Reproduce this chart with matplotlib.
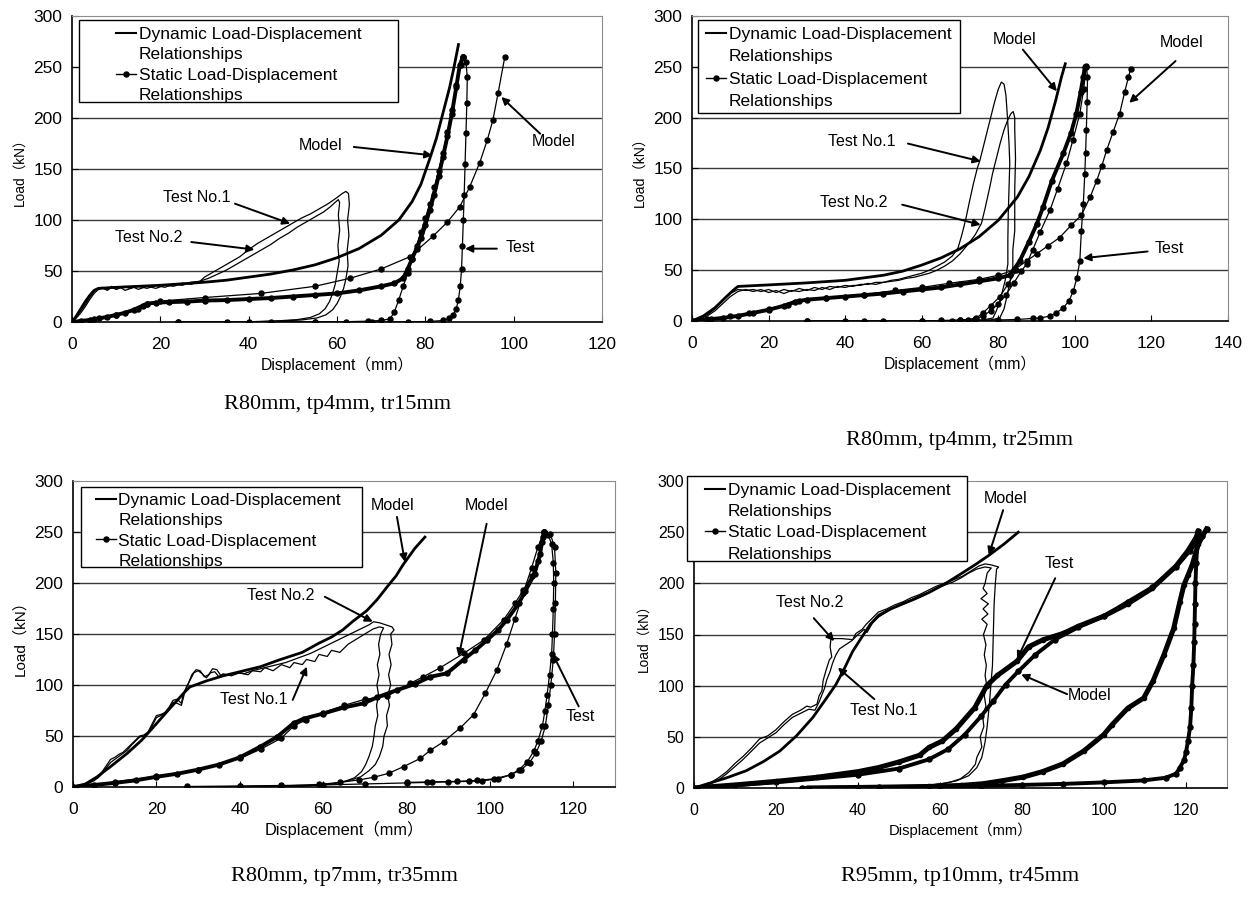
import matplotlib
matplotlib.use("Agg")
import matplotlib.pyplot as plt
from matplotlib.lines import Line2D
from matplotlib.patches import Rectangle

plt.rcParams['font.family'] = ['Liberation Sans', 'Noto Sans CJK JP', 'DejaVu Sans']

# ---------------- DATA (displacement mm, load kN) ----------------
# Panel 1: R80mm, tp4mm, tr15mm
p1_dyn_test1 = [(0,0),(1,5),(2,11),(3,17),(4,24),(5,30),(5.5,32),(7,33),(8,31),(9,34),(10,32),(12,35),(13,33),(15,35),(17,33),(19,36),(21,34),(23,37),(25,36),(27,39),(29,40),(30,44),(32,49),(34,54),(36,59),(38,64),(40,71),(42,77),(44,82),(46,87),(48,92),(50,97),(52,102),(54,106),(56,111),(58,116),(60,122),(61.2,126),(62,128),(62.6,126),(62.8,115),(62.4,100),(62.7,85),(62.3,70),(62.5,55),(62,42),(61.5,33),(60.8,25),(60,18),(59,12),(57.5,7),(55.5,4),(52,2),(47,1),(40,0)]
p1_dyn_test2 = [(0,0),(1,4),(2,9),(3,15),(4,22),(5,28),(6,32),(7,34),(8,32),(9,35),(10,32),(11,34),(12,31),(14,34),(15,32),(17,35),(19,33),(21,36),(23,35),(25,38),(27,37),(29,40),(31,43),(33,47),(35,51),(37,56),(39,61),(41,66),(43,71),(45,76),(47,82),(49,87),(51,93),(53,98),(55,103),(57,108),(58.5,113),(59.5,117),(60.3,120),(60.6,117),(60.3,105),(60.6,90),(60.2,75),(60.5,60),(60,47),(59.6,37),(59,28),(58.3,20),(57.3,13),(56,8),(54,4.5),(51,2.3),(46,1),(38,0)]
p1_dyn_model = [(0,0),(1,6),(2,13),(3,20),(4,26),(5,31),(6,33),(10,34),(15,35),(20,36),(25,37.5),(30,39),(35,41),(40,44),(45,47),(50,51),(55,56),(60,63),(65,72),(70,85),(74,100),(77,118),(79,135),(81,160),(82.5,180),(84,205),(85.5,230),(86.5,250),(87.5,272)]
p1_stat_test_load = [(0,0),(2,1),(4,2),(6,3.5),(8,5),(10,7),(12,9),(14,12),(16,16),(17,18),(19,19),(22,19.5),(26,20),(30,21),(35,21.5),(40,22.5),(45,23.5),(50,25),(55,26.5),(60,28),(65,31),(70,35),(73,38),(75,43),(76,52),(77,62),(78,72),(79,82),(80,95),(81,110),(82,125),(83,143),(84,162),(85,182),(86,204),(87,230),(87.8,252),(88.5,260)]
p1_stat_test_unload = [(88.5,260),(89.2,255),(89.5,240),(89.4,215),(89.2,185),(89,155),(88.8,125),(88.6,100),(88.4,75),(88.2,52),(87.9,35),(87.5,22),(87,13),(86.3,7),(85.3,3.5),(84,1.5),(81,0.5),(76,0.2),(68,0),(55,0),(40,0),(24,0)]
p1_stat_test_reload = [(24,0),(35,0),(45,0),(55,0),(62,0.3),(67,0.8),(70,1.5),(72,3),(73,10),(74,22),(75,35),(76,48),(77,62),(78,75),(79,88),(80,102),(81,116),(82,132),(83,148),(84,166),(85,186),(86,208),(87,232),(88,252),(88.6,260)]
p1_stat_model = [(0,0),(5,3),(10,7),(15,13),(17,17.5),(20,20.5),(30,24),(42.7,28),(55,35),(62.9,42.8),(70,52),(76.5,64),(81.7,84),(85,98),(87.8,113),(90,132),(92.3,156),(94,178),(95.3,198),(96.5,225),(98,260)]

# Panel 2: R80mm, tp4mm, tr25mm
p2_dyn_test1 = [(0,0),(2,3),(4,6),(6,12),(8,20),(10,27),(12,31),(14,30),(16,31),(18,29),(20,31),(22,28),(24,31),(26,29),(28,32),(30,30),(32,33),(34,31),(36,34),(38,33),(40,35),(42,34),(44,36),(46,36),(48,38),(50,38),(52,40),(54,41),(56,43),(58,45),(60,47),(62,50),(64,54),(66,58),(68,64),(69.5,72),(70.5,85),(71.5,100),(72.5,118),(73.5,135),(74.5,150),(75.2,158),(76,170),(77,185),(78,200),(79,215),(80,228),(80.8,235),(81.5,233),(82,222),(82.4,200),(82.8,175),(83,155),(82.8,130),(82.6,105),(82.5,80),(82.5,56),(81.8,40),(81,28),(80.4,20),(79.5,10),(78.6,3),(76,1),(70,0.3),(60,0)]
p2_dyn_test2 = [(0,0),(2,2),(4,5),(6,10),(8,17),(10,24),(12,29),(14,31),(16,29),(18,31),(20,28),(22,30),(24,27),(26,30),(28,29),(30,31),(32,30),(34,33),(36,31),(38,34),(40,33),(42,35),(44,35),(46,37),(48,36),(50,38),(52,39),(54,40),(56,42),(58,43),(60,45),(62,47),(64,50),(66,54),(68,59),(70,66),(72,75),(74,85),(75.6,96),(76.5,110),(77.8,132),(78.5,145),(79.5,160),(80.5,175),(81.5,188),(82.5,198),(83.3,204),(83.9,206),(84.3,200),(84.3,188),(84.5,160),(84.3,130),(84.3,100),(84.3,89),(83.8,70),(83.8,53),(83,38),(82.2,23),(81.5,12),(80.4,3),(78,1),(70,0)]
p2_dyn_model = [(0,0),(3,5),(6,13),(9,24),(11,31),(12,34),(20,35.5),(30,37.5),(40,40),(50,45),(55,49),(60,55),(65,62),(70,71),(75,83),(80,99),(85,122),(88,142),(91,168),(93,190),(95,217),(96.5,240),(97.5,253)]
p2_stat_test_load = [(0,0),(4,1.5),(8,3),(12,5),(16,8),(20,11),(24,15),(27,19),(30,21),(35,22.5),(40,24),(45,25.5),(50,27),(55,29),(60,31),(65,33),(70,36),(75,39),(80,42),(83,45),(85.6,59),(88,78),(90,95),(91.7,112),(94,138),(97,165),(99,185),(100.4,204),(101.5,225),(102.2,240),(102.6,250)]
p2_stat_test_branch = [(68,0),(72,1),(74.3,3),(76,8),(78,15),(80.4,24),(82.5,36),(84.7,50)]
p2_stat_test_reload = [(30,0),(40,0),(50,0),(60,0),(65,0.5),(70,1),(74,2),(76,5),(78,10),(80,17),(82,26),(84,37),(86,49),(87.4,56),(89,70),(91,88),(93.5,109),(95.5,130),(97.8,155),(99.5,178),(101.3,204),(102.3,228),(103,250)]
p2_stat_test_unload = [(103,251),(103.3,240),(103.2,215),(103,188),(102.8,165),(102.6,145),(102.2,115),(101.7,89),(101.3,59),(100.5,42),(99.6,29.5),(98.5,20),(97,13),(95,7.5),(93.5,4.8),(91,3),(89,2.5),(85,1.5),(80,1),(70,0.5),(60,0),(45,0),(30,0)]
p2_stat_model = [(0,0),(5,2),(10,4.5),(15,8),(20,12),(25,16),(28,20),(35,22.5),(45,26),(53,30),(60,33),(67,37),(75,41),(80,45),(84,50),(87.4,59),(90,66),(93,74),(96,82),(99,94),(101.7,104),(104,122),(105.7,138),(107,152),(108.3,168),(110,186),(111.7,204),(113,225),(114,240),(114.6,248)]

# Panel 3: R80mm, tp7mm, tr35mm
p3_dyn_test1 = [(0,0),(2,1.5),(4,4),(5,6),(6,9),(7,13),(8,19),(9,24),(10,27),(11,30),(12,33),(13,36),(14,41),(15,45),(16,49),(17,50),(18,53),(19,60),(20,68),(21,70),(22,72),(23,77),(24,83),(25,82),(26,80),(27,96),(28,104),(29,112),(30,114),(31,111),(32,107),(33,112),(34,113),(35,108),(36,111),(38,109),(40,112),(42,110),(43,114),(45,113),(46,117),(48,114),(50,120),(52,117),(53,122),(55,120),(56,125),(58,123),(59,130),(61,128),(62,134),(64,132),(66,140),(68,145),(70,150),(72,155),(73.5,157),(74.5,156),(73.8,150),(73.3,140),(73.6,130),(73,120),(73.4,110),(72.9,100),(73.3,90),(72.8,80),(73.1,70),(72.5,60),(72.2,50),(71.8,40),(71,30),(70.2,22),(69.2,15),(67.5,9),(65.5,6),(62,3),(56,1),(45,0.3),(28,0)]
p3_dyn_test2 = [(0,0),(2,2),(4,5),(5,8),(6,11),(7,15),(8,21),(9,27),(10,29),(11,32),(12,34),(13,38),(14,42),(15,46),(16,50),(17,51),(18,54),(19,62),(20,70),(21,71),(22,73),(23,78),(24,85),(25,86),(26,82),(26.5,92),(27.5,100),(28.5,110),(29.5,115),(30.5,114),(31.5,108),(32.5,110),(33.5,116),(34.5,115),(35.5,109),(37,110),(39,112),(41,111),(43,114),(45,116),(47,118),(49,120),(51,122),(53,125),(55,128),(57,131),(59,135),(61,139),(63,143),(65,147),(67,151),(69,155),(71,159),(72.1,162),(73.5,161),(75,159),(76.5,157),(77,154),(76.2,150),(76.5,140),(75.8,130),(76.3,120),(75.7,110),(76.2,100),(75.5,90),(75.9,80),(75.2,70),(75.4,60),(74.6,50),(74.3,40),(73.5,30),(72.5,22),(71,16),(69,10),(66,6),(62,3),(55,1),(45,0.5),(30,0)]
p3_dyn_model = [(0,0),(3,3),(5.8,10),(9,20),(13,33),(16.5,46),(20,62),(23,76),(25,85),(27,94),(28,98),(32,104),(36,109),(40,113),(45,118),(49.4,124.5),(55,132),(59,141),(62,147),(64.7,154),(67,162),(70.5,173),(73,184),(75.3,196),(77.5,207),(79.1,217.5),(82,234),(84.4,245)]
p3_stat_test_load = [(0,0),(5,2),(10,4),(15,6.5),(20,10),(25,13),(30,17),(35,22),(40,29),(44.9,39.5),(48.9,49),(52.9,62.5),(55.3,67),(60,72),(65,78),(69.7,82),(73,88),(77.7,95),(82,101),(85.7,108),(89.7,111.5),(93.7,125),(96.5,134),(99.3,144),(102,154),(104.1,164),(106.9,180),(108.5,192),(110.7,209),(112,228),(112.7,245),(113,250)]
p3_stat_model = [(0,0),(10,5),(20,10.5),(30,17),(40,28),(45,37),(50,48),(53,60),(56,66),(60,73),(65,80),(70,86),(75.3,89),(80.9,101.7),(84,108),(88.1,117),(93.7,131),(98.5,144),(103.3,164),(106,180),(108,193),(110,207),(111.5,222),(112.5,240),(113,250)]
p3_stat_test_unload1 = [(113,250),(114,247),(114.8,238),(115.2,220),(115.3,200),(115.2,175),(115,150),(114.8,130),(114.3,110),(113.7,90),(113.2,75),(112.6,60),(111.5,45),(110.5,35),(109,25),(107,17),(105,12),(102,8),(98,6),(95,5.5),(90,5),(85,4.5),(80,4),(70,3),(60,2),(50,1.5),(40,1),(27.3,0.5)]
p3_stat_test_unload2 = [(114.5,248),(115.5,235),(115.8,210),(115.7,180),(115.5,150),(115.2,125),(114.6,100),(114,80),(113.3,60),(112.3,45),(111,33),(109.5,24),(107.5,17),(105,12),(101,8),(97,6.5),(92,5.5),(86,5),(80,4.5)]
p3_stat_model_unload = [(113,250),(111.5,235),(110,215),(108,190),(106,165),(104,140),(101.7,115),(98.9,92),(96.1,71),(92.9,58),(88.9,44.4),(85.7,36),(83.3,28),(79.3,20),(75.7,13.4),(72.1,9.5),(68.6,7),(64,4.5),(59,2.5),(50,1),(40,0.5),(27.3,0)]

# Panel 4: R95mm, tp10mm, tr45mm
p4_dyn_test1 = [(0,0),(2,1.5),(4,4),(6,8),(8,14),(10,21),(12,28),(14,36),(16,44),(18,49),(20,54),(22,62),(24,69),(26,73),(28,77),(29.5,76),(30.5,84),(31.2,91),(31.8,97),(32.4,106),(33.2,114),(33.8,122),(34.6,130),(35.5,136),(37,140),(38.5,144),(40,150),(41.5,155),(42.2,152),(43.5,161),(45,167),(47,172),(49,177),(51,181),(53,184),(55,188),(57,191),(59,195),(61,198),(63,201),(65,205),(67,210),(69,214),(71,216),(72.5,215),(71.5,210),(71,200),(70.5,195),(71.5,190),(70,185),(71.8,180),(70.5,175),(71.7,170),(70.2,165),(71.5,160),(70.6,150),(71.2,140),(70.8,130),(71.3,120),(71,110),(71.4,100),(70.8,90),(71.2,80),(70.4,70),(70.7,60),(69.8,50),(70.2,40),(69,30),(68.6,23),(67,15),(65,9),(62,5),(58,3),(52,1.5),(45,0.5),(35,0)]
p4_dyn_test2 = [(0,0),(2,2),(4,5),(6,10),(8,16),(10,24),(12,31),(14,39),(16,48),(18,51),(20,57),(22,65),(24,72),(26,76),(27.5,80),(28.5,79),(30,82),(30.5,90),(31.2,95),(31.5,105),(32.2,115),(33,125),(33.6,128),(33.2,138),(33.4,146),(36,146),(38.7,145),(39.5,151),(41,155),(42,160),(43.5,166),(45,172),(47,175),(49,179),(51,182),(53,186),(55,189),(57,193),(59,197),(61,200),(63,203),(65.5,207),(67.5,212),(69.5,217),(71,219),(72.5,218),(74.3,216),(73.8,214),(73.5,200),(73.2,180),(73,150),(72.8,120),(72.4,100),(72,80),(71.5,60),(71,45),(70.2,30),(69,20),(67,12),(64,7),(60,4),(55,2),(48,1),(40,0)]
p4_dyn_model = [(0,0),(4,5),(8,10),(12.8,17),(17,26),(20.9,36),(25,51),(29,69),(32,86),(34.6,101),(36.7,117),(38.7,133.5),(40.7,146),(43,160),(45.1,169),(48,175),(51,180),(54,185),(57.3,191),(61,199),(65.4,210),(68.5,218),(71.8,227),(75.5,238),(79.1,250)]
p4_stat_test_load = [(0,0),(10,3),(20,6.5),(30,10.5),(40,16),(45,20),(50,25.5),(55,32),(57.3,39.6),(60.6,46),(64,58),(68.5,78.6),(71.4,100),(74,110),(78.8,124),(81.6,138),(85.2,145),(90,151),(93.7,158),(100,168),(105.8,180),(111.7,195),(117.6,217),(120.5,232),(122.5,245),(123,250.8)]
p4_stat_model_load = [(0,0),(20,5.5),(40,13),(50,19),(57.3,28),(62,38),(66,52),(70,70),(73,85),(76,101),(79.1,114),(83.2,130),(88,145),(93.7,157),(100,168),(105.8,182),(111.7,196),(117.6,216),(121,232),(124,246),(125,253)]
p4_stat_unload = [(125,253),(124,246),(123,238),(121.5,218),(120.5,208),(119.5,198.5),(118.5,182),(117,156),(114.6,130),(112,105),(109.7,88),(105.8,78),(102,62),(99.9,52),(95,36),(90,23.6),(85,16),(80.3,10.7),(75,7),(70.5,4.2),(65,2.5),(57.3,1.5),(40,0.5),(28,0)]
p4_stat_test_unload = [(123,251),(122.8,240),(122.5,220),(122.3,200),(122.2,180),(122.1,160),(122,143),(121.8,120),(121.5,100),(121.3,78.6),(121,60),(120.5,46),(120,35),(119.5,27),(118.5,20),(117.6,14),(115,10),(109.7,7.4),(100,5.5),(90,4),(80,3),(70,2),(60,1.6),(45,0.8),(26.3,0)]

captions = ["R80mm, tp4mm, tr15mm", "R80mm, tp4mm, tr25mm",
            "R80mm, tp7mm, tr35mm", "R95mm, tp10mm, tr45mm"]
x_maxes = [120, 140, 130, 130]
x_ticks = [list(range(0, 121, 20)), list(range(0, 141, 20)),
           list(range(0, 121, 20)), list(range(0, 121, 20))]
y_ticks = [0, 50, 100, 150, 200, 250, 300]
x_label = "Displacement（mm）"
y_label = "Load（kN）"
legend_labels = ["Dynamic Load-Displacement", "Relationships",
                 "Static Load-Displacement", "Relationships"]

# ---------------- STYLES ----------------
DYN_TEST = dict(color='black', lw=0.9, zorder=3)
DYN_MODEL = dict(color='black', lw=2.0, zorder=3)
STAT_THIN = dict(color='black', lw=0.9, marker='o', ms=3.6, zorder=3)
STAT_THICK = dict(color='black', lw=2.8, marker='o', ms=3.6, zorder=3)
STAT_BOLD = dict(color='black', lw=3.6, marker='o', ms=3.0, zorder=3)


def xy(pts):
    return [p[0] for p in pts], [p[1] for p in pts]


def draw(ax, pts, style):
    x, y = xy(pts)
    ax.plot(x, y, **style)


def note(ax, text, txy, tail, tip, fs=11.5):
    ax.text(txy[0], txy[1], text, ha='center', va='center', fontsize=fs, zorder=6)
    ax.annotate('', xy=tip, xytext=tail, zorder=6,
                arrowprops=dict(arrowstyle='-|>', color='black', lw=1.4,
                                mutation_scale=11, shrinkA=0, shrinkB=0))


fig = plt.figure(figsize=(12.52, 8.97), dpi=100)

W, H = 1252.0, 897.0
rects_px = [(72, 16, 602, 322), (692, 16, 1228, 321),
            (73, 481, 615, 787), (694, 481, 1227, 788)]
axes = []
for (l, t, r, b) in rects_px:
    axes.append(fig.add_axes([l / W, 1 - b / H, (r - l) / W, (b - t) / H]))

legend_boxes = [(0.013, 0.719, 0.615, 0.987), (0.011, 0.682, 0.500, 0.987),
                (0.015, 0.719, 0.533, 0.980), (-0.013, 0.739, 0.512, 1.016)]
legend_anchor = [(0.083, 0.965), (0.026, 0.965), (0.042, 0.962), (0.021, 0.995)]
legend_spacing = [0.30, 0.42, 0.30, 0.36]
xlabel_size = [11.3, 11.3, 11.8, 10.6]
ylabel_size = [9.8, 10.2, 11.0, 9.8]
tick_size = [12.5, 12.5, 12.5, 11.5]

for i, ax in enumerate(axes):
    ax.set_xlim(0, x_maxes[i])
    ax.set_ylim(0, 300)
    ax.set_xticks(x_ticks[i])
    ax.set_yticks(y_ticks)
    for yv in y_ticks[1:-1]:
        ax.axhline(yv, color='#3a3a3a', lw=1.0, zorder=1)
    for s in ['top', 'right']:
        ax.spines[s].set_color('#8c8c8c')
    for s in ['left', 'bottom']:
        ax.spines[s].set_color('black')
        ax.spines[s].set_linewidth(1.2)
    ax.tick_params(axis='x', direction='in', length=4, labelsize=tick_size[i], pad=11)
    ax.tick_params(axis='y', direction='in', length=4, labelsize=tick_size[i], pad=7)
    ax.set_xlabel(x_label, fontsize=xlabel_size[i], labelpad=3)
    ax.set_ylabel(y_label, fontsize=ylabel_size[i], labelpad=5)

    handles = [Line2D([], [], color='black', lw=1.5),
               Line2D([], [], color='none'),
               Line2D([], [], color='black', lw=1.0, marker='o', ms=3.6),
               Line2D([], [], color='none')]
    ax.legend(handles, legend_labels, loc='upper left',
              bbox_to_anchor=legend_anchor[i], frameon=False, fontsize=12.5,
              handlelength=1.15, handletextpad=0.15,
              labelspacing=legend_spacing[i],
              borderpad=0, borderaxespad=0)
    x0, y0, x1, y1 = legend_boxes[i]
    ax.add_patch(Rectangle((x0, y0), x1 - x0, y1 - y0, transform=ax.transAxes,
                           facecolor='white', edgecolor='black', lw=1.0,
                           clip_on=False, zorder=4.5))

# Panel 1
ax = axes[0]
draw(ax, p1_stat_test_load, STAT_THICK)
draw(ax, p1_stat_test_unload, STAT_THIN)
draw(ax, p1_stat_test_reload, STAT_THIN)
draw(ax, p1_stat_model, STAT_THIN)
draw(ax, p1_dyn_model, DYN_MODEL)
draw(ax, p1_dyn_test1, DYN_TEST)
draw(ax, p1_dyn_test2, DYN_TEST)
note(ax, "Model", (56.2, 173), (63.8, 171.6), (81.6, 163.4))
note(ax, "Model", (109, 176.5), (106, 184.6), (97.2, 220.6))
note(ax, "Test No.1", (28.3, 122), (36.9, 116), (49.4, 96.4))
note(ax, "Test No.2", (17.3, 82.7), (27, 78.4), (41.3, 71))
note(ax, "Test", (101.6, 72.9), (96.2, 71.9), (89, 71.9))

# Panel 2
ax = axes[1]
draw(ax, p2_stat_test_load, STAT_THICK)
draw(ax, p2_stat_test_branch, STAT_THIN)
draw(ax, p2_stat_test_reload, STAT_THIN)
draw(ax, p2_stat_test_unload, STAT_THIN)
draw(ax, p2_stat_model, STAT_THIN)
draw(ax, p2_dyn_model, DYN_MODEL)
draw(ax, p2_dyn_test1, DYN_TEST)
draw(ax, p2_dyn_test2, DYN_TEST)
note(ax, "Model", (84.3, 277), (86.4, 267), (95.3, 226))
note(ax, "Model", (128, 273.7), (126.3, 255.7), (114.2, 214.6))
note(ax, "Test No.1", (44.4, 176.8), (56.4, 174.5), (75.4, 157))
note(ax, "Test No.2", (42.3, 117), (54.9, 114.4), (75.4, 94.6))
note(ax, "Test", (124.8, 71.6), (119, 68.4), (102.2, 61.8))

# Panel 3
ax = axes[2]
draw(ax, p3_stat_test_load, STAT_THICK)
draw(ax, p3_stat_model, STAT_THIN)
draw(ax, p3_stat_test_unload1, STAT_THIN)
draw(ax, p3_stat_test_unload2, STAT_THIN)
draw(ax, p3_stat_model_unload, STAT_THIN)
draw(ax, p3_dyn_model, DYN_MODEL)
draw(ax, p3_dyn_test1, DYN_TEST)
draw(ax, p3_dyn_test2, DYN_TEST)
note(ax, "Model", (76.7, 276), (77.7, 264.8), (79.6, 220.7))
note(ax, "Model", (99.2, 276), (99.2, 258), (92.5, 127.8))
note(ax, "Test No.2", (49.9, 188), (60.4, 186.5), (71.9, 162))
note(ax, "Test No.1", (43.4, 85.4), (52.7, 85.4), (56.1, 118))
note(ax, "Test", (121.8, 69), (121.3, 79), (115, 131))

# Panel 4
ax = axes[3]
draw(ax, p4_stat_test_load, STAT_BOLD)
draw(ax, p4_stat_model_load, STAT_THICK)
draw(ax, p4_stat_unload, STAT_BOLD)
draw(ax, p4_stat_test_unload, STAT_THICK)
draw(ax, p4_dyn_model, DYN_MODEL)
draw(ax, p4_dyn_test1, DYN_TEST)
draw(ax, p4_dyn_test2, DYN_TEST)
note(ax, "Model", (75.9, 282.8), (75.4, 271.5), (71.9, 227.7))
note(ax, "Test", (89.1, 219.6), (88.1, 205), (78.8, 125.7))
note(ax, "Model", (96.5, 90), (91, 91.7), (79.8, 111))
note(ax, "Test No.2", (28.3, 180.8), (29.2, 166), (34.2, 143.5))
note(ax, "Test No.1", (46.4, 75.5), (44, 86.8), (35.1, 117.6))

# Captions
cap_pos = [(337, 405), (960, 440), (344, 876), (960, 876)]
for (cx, cy), text in zip(cap_pos, captions):
    fig.text(cx / W, 1 - cy / H, text, ha='center', va='center',
             fontsize=16, family=['Liberation Serif', 'DejaVu Serif'])

fig.savefig("out.png", dpi=100)
